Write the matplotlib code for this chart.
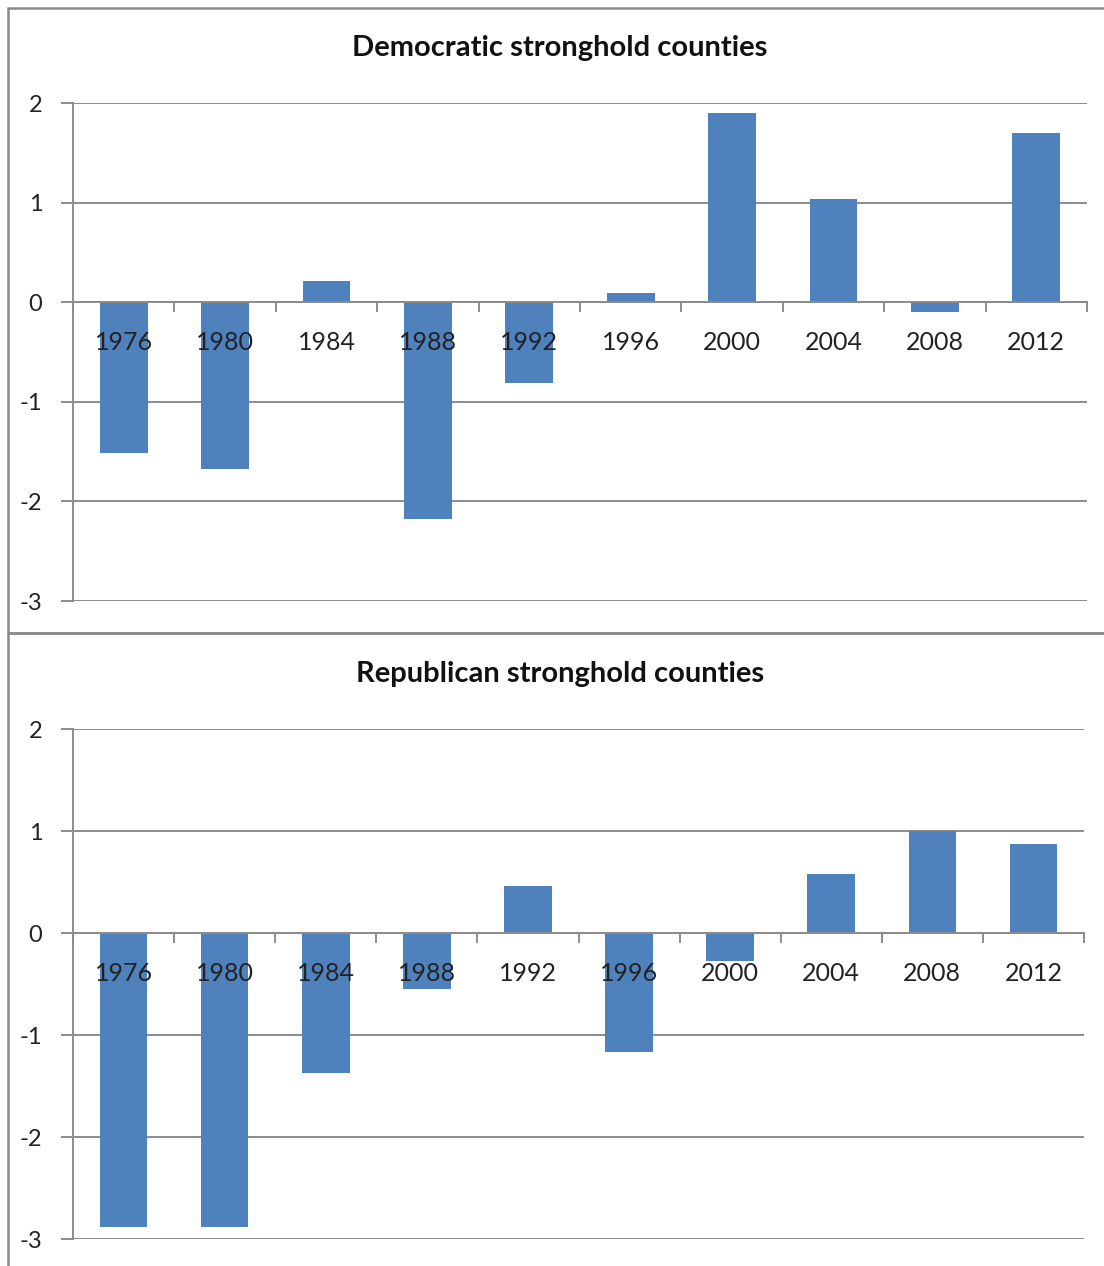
import matplotlib
matplotlib.use("Agg")
import matplotlib.pyplot as plt
from matplotlib.patches import Rectangle
import numpy as np

years = ["1976", "1980", "1984", "1988", "1992", "1996", "2000", "2004", "2008", "2012"]
dem_values = [-1.51, -1.67, 0.21, -2.18, -0.81, 0.09, 1.90, 1.04, -0.10, 1.70]
rep_values = [-2.88, -2.88, -1.37, -0.55, 0.46, -1.17, -0.27, 0.58, 1.00, 0.87]
titles = ["Democratic stronghold counties", "Republican stronghold counties"]
yticks = [-3, -2, -1, 0, 1, 2]

BAR = "#4F81BD"
GRID = "#8C8C8C"
FONT = "Lato"

W, H = 1104, 1266
fig = plt.figure(figsize=(W / 100, H / 100), dpi=100)
fig.patch.set_facecolor("white")

def fx(px):
    return px / W

def fy(py):
    return 1 - py / H

# panel borders
for (top, bot) in [(8, 633), (633, 1270)]:
    fig.add_artist(Rectangle((fx(8), fy(bot)), fx(1110) - fx(8), fy(top) - fy(bot),
                             transform=fig.transFigure, fill=False,
                             edgecolor="#8A8A8A", lw=1.8))

panels = [
    (dem_values, titles[0], 73, 1087, 103, 601, 48),
    (rep_values, titles[1], 73, 1084, 729, 1239, 674),
]

for vals, title, xl, xr, yt, yb, ty in panels:
    ax = fig.add_axes([fx(xl), fy(yb), fx(xr) - fx(xl), fy(yt) - fy(yb)])
    x = np.arange(len(years))
    ax.bar(x, vals, width=0.47, color=BAR, zorder=1)
    ax.set_xlim(-0.5, len(years) - 0.5)
    ax.set_ylim(-3, 2)
    ax.set_yticks(yticks)
    ax.set_yticklabels([str(v) for v in yticks], fontsize=17, family=FONT, color="#222222")
    ax.yaxis.grid(True, color=GRID, lw=1.4)
    ax.yaxis.set_zorder(0.5)
    ax.xaxis.set_zorder(3)
    for s in ["top", "right"]:
        ax.spines[s].set_visible(False)
    ax.spines["left"].set_color(GRID)
    ax.spines["left"].set_linewidth(1.4)
    ax.spines["bottom"].set_position(("data", 0))
    ax.spines["bottom"].set_color(GRID)
    ax.spines["bottom"].set_linewidth(1.4)
    ax.spines["bottom"].set_zorder(2)
    ax.tick_params(axis="y", length=9, width=1.4, color=GRID, pad=13)
    # major ticks at category boundaries, labels at centres (minor)
    ax.set_xticks(np.arange(-0.5, len(years), 1.0))
    ax.set_xticklabels([])
    ax.set_xticks(x, minor=True)
    ax.set_xticklabels(years, minor=True, fontsize=18, family=FONT, color="#222222")
    ax.tick_params(axis="x", which="major", length=7, width=1.4, color=GRID, direction="out")
    ax.tick_params(axis="x", which="minor", length=0, pad=21)
    fig.text(fx(560), fy(ty), title, ha="center", va="center", fontsize=21,
             fontweight="bold", family=FONT, color="#111111")

fig.savefig("out.png", dpi=100, facecolor="white")
